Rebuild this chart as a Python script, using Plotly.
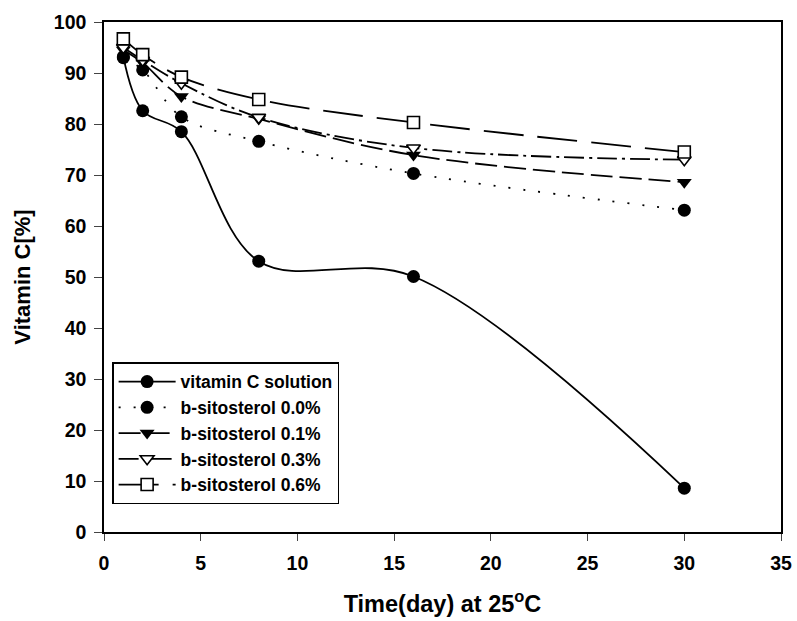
import plotly.graph_objects as go

days = [1, 2, 4, 8, 16, 30]
vitc_solution = [93.2, 82.6, 78.5, 53.1, 50.1, 8.6]
bs_00 = [93.0, 90.6, 81.4, 76.6, 70.3, 63.1]
bs_01 = [94.5, 92.0, 85.4, 81.0, 73.9, 68.6]
bs_03 = [95.0, 92.5, 88.0, 81.3, 75.3, 73.0]
bs_06 = [96.7, 93.6, 89.2, 84.8, 80.3, 74.5]

series_names = ["vitamin C solution", "b-sitosterol 0.0%", "b-sitosterol 0.1%",
                "b-sitosterol 0.3%", "b-sitosterol 0.6%"]
x_ticks = [0, 5, 10, 15, 20, 25, 30, 35]
y_ticks = [0, 10, 20, 30, 40, 50, 60, 70, 80, 90, 100]

FONT = "Liberation Sans, Arial, sans-serif"

styles = [
    dict(symbol="circle", dash="solid", fill="black"),
    dict(symbol="circle", dash="2px,13px", fill="black"),
    dict(symbol="triangle-down", dash="22px,7px", fill="black"),
    dict(symbol="triangle-down", dash="20px,5px,3px,5px", fill="white"),
    dict(symbol="square", dash="40px,14px", fill="white"),
]
values = [vitc_solution, bs_00, bs_01, bs_03, bs_06]

fig = go.Figure()
for name, vals, st in zip(series_names, values, styles):
    fig.add_trace(go.Scatter(
        x=days, y=vals, name=name, mode="lines+markers",
        line=dict(color="black", width=1.8, dash=st["dash"], shape="spline", smoothing=1.0),
        marker=dict(symbol=st["symbol"], size=13 if st["fill"] == "black" else 12,
                    color=st["fill"],
                    line=dict(color="black", width=1.6 if st["fill"] == "white" else 0)),
    ))

fig.update_layout(
    width=797, height=621,
    margin=dict(l=104, r=16, t=22, b=89),
    paper_bgcolor="white", plot_bgcolor="white",
    font=dict(family=FONT, color="black", size=17, weight="bold"),
    showlegend=True,
    legend=dict(x=0.012, y=0.333, xanchor="left", yanchor="top",
                bordercolor="black", borderwidth=1.5, bgcolor="white",
                font=dict(family=FONT, size=17.5, color="black", weight="bold"),
                tracegroupgap=0, itemwidth=57),
)
fig.update_xaxes(
    range=[0, 35], tickvals=x_ticks, ticks="outside", ticklen=7, tickwidth=1.2,
    ticklabeloverflow="allow", automargin=False, ticklabelstandoff=6,
    showline=True, linecolor="black", linewidth=1.5, mirror=True, showgrid=False,
    zeroline=False, tickfont=dict(family=FONT, size=19.5, weight="bold"),
    title=dict(text="Time(day) at 25<sup>o</sup>C", standoff=22,
               font=dict(family=FONT, size=23.5, weight="bold")),
)
fig.update_yaxes(
    range=[0, 100], tickvals=y_ticks, ticks="outside", ticklen=8, tickwidth=1.2,
    automargin=False, ticklabelstandoff=4,
    showline=True, linecolor="black", linewidth=1.5, mirror=True, showgrid=False,
    zeroline=False, tickfont=dict(family=FONT, size=19.5, weight="bold"),
    title=dict(text="Vitamin C[%]", standoff=17,
               font=dict(family=FONT, size=22, weight="bold")),
)

# remove the browser's default 8px body margin so the figure fills the window exactly
fig.write_html("out.html", config={"displayModeBar": False},
               post_script="document.body.style.margin='0';")
